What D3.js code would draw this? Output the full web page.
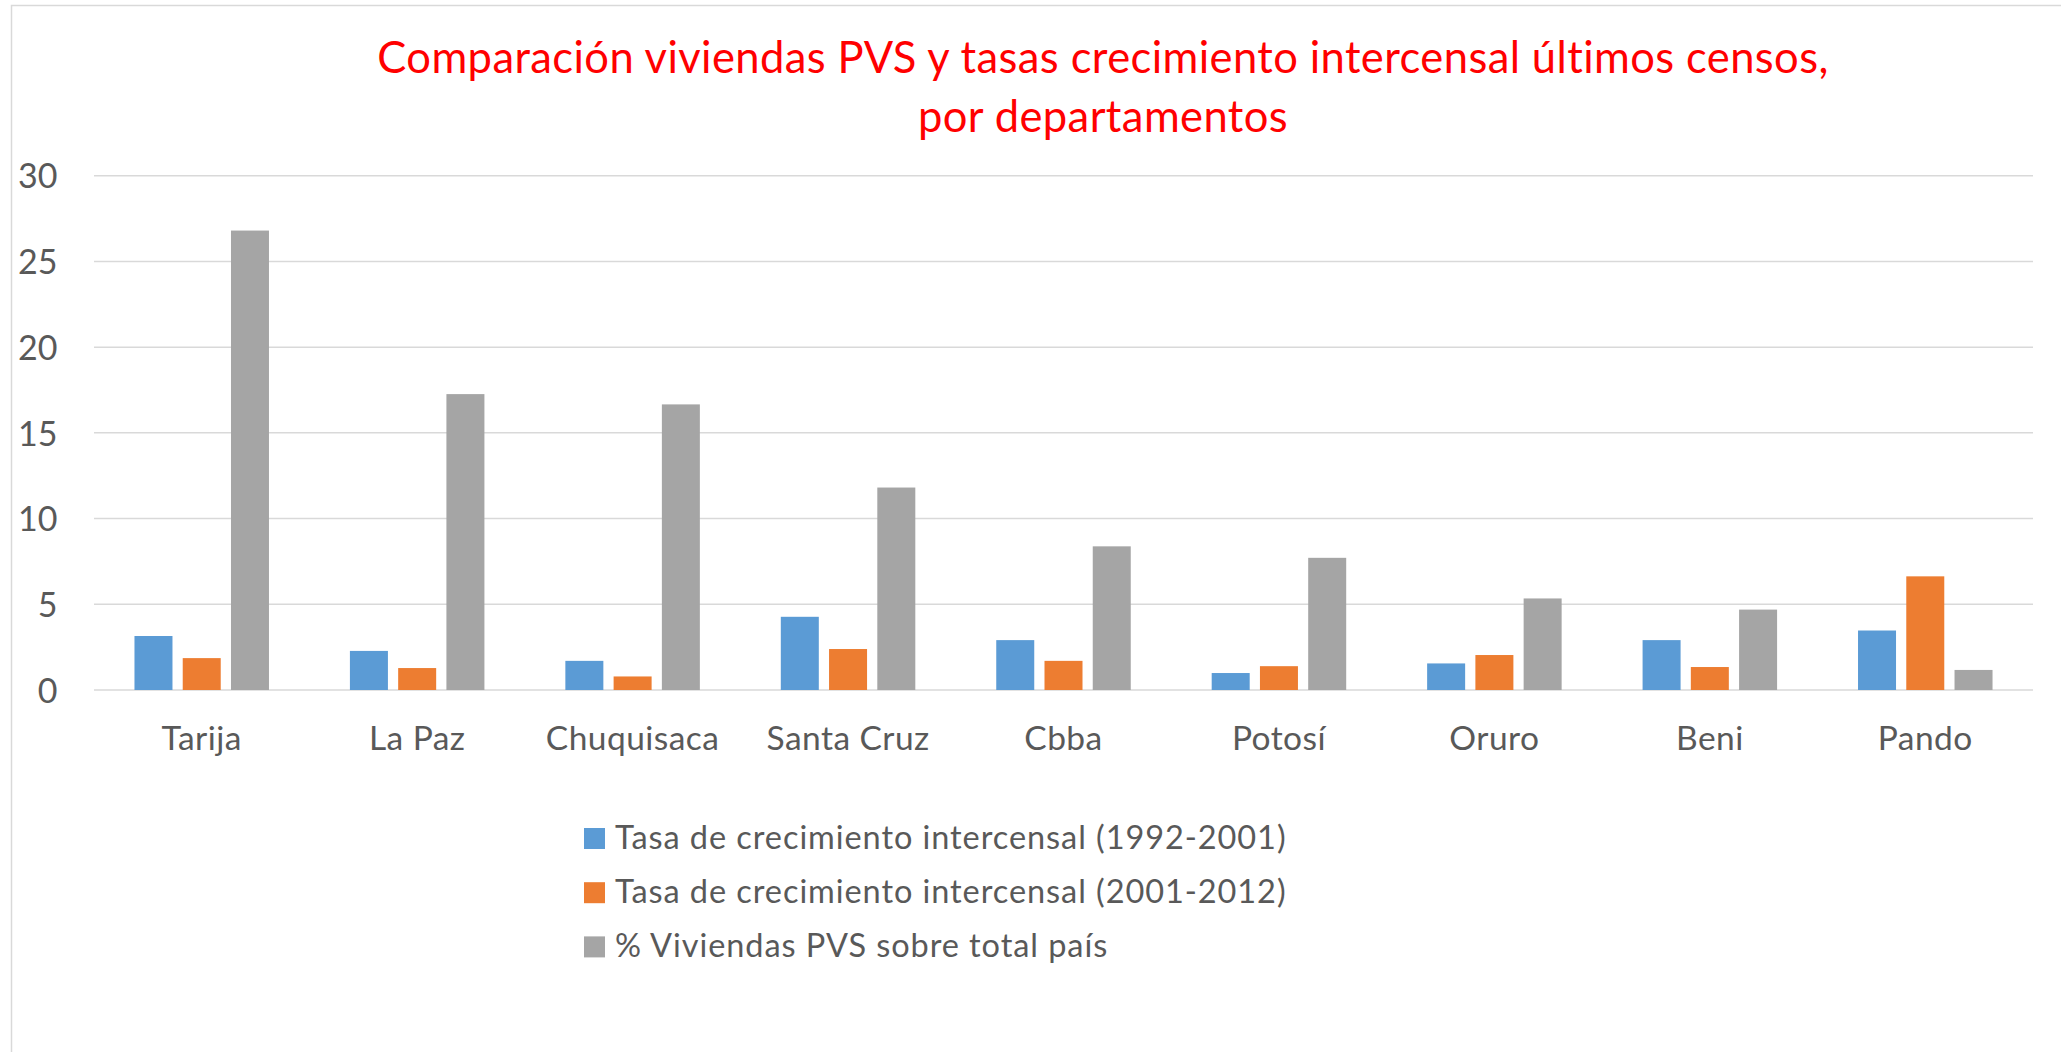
<!doctype html>
<html>
  <head>
    <meta charset="utf-8">
    <script src="https://d3js.org/d3.v7.min.js"></script>
    <style>
      body { margin: 0; background: #fff; }
      text { font-family: Lato, "Open Sans", sans-serif; }
    </style>
  </head>
  <body>
    <script>
    // data
    var departamentos = ["Tarija", "La Paz", "Chuquisaca", "Santa Cruz", "Cbba", "Potosí", "Oruro", "Beni", "Pando"];
    var series = [
      "Tasa de crecimiento intercensal (1992-2001)",
      "Tasa de crecimiento intercensal (2001-2012)",
      "% Viviendas PVS sobre total país"
    ];
    var tasa1992 = [3.15, 2.28, 1.70, 4.27, 2.91, 0.99, 1.55, 2.91, 3.47];
    var tasa2001 = [1.86, 1.28, 0.79, 2.39, 1.70, 1.39, 2.04, 1.34, 6.63];
    var viviendasPVS = [26.8, 17.26, 16.66, 11.81, 8.38, 7.71, 5.34, 4.69, 1.17];
    var yTicks = [0, 5, 10, 15, 20, 25, 30];
    var colors = ["#5b9bd5", "#ed7d31", "#a5a5a5"];
    var titleLines = ["Comparación viviendas PVS y tasas crecimiento intercensal últimos censos,", "por departamentos"];

    var width = 2061;
    var height = 1052;

    var values = [tasa1992, tasa2001, viviendasPVS];
    var rows = departamentos.map(function(d, i) {
      return {dep: d, vals: values.map(function(v, k) { return {k: k, v: v[i]}; })};
    });

    var svg = d3.select("body")
              .append("svg")
              .attr("width", width)
              .attr("height", height);

    svg.append("rect")
      .attr("width", width).attr("height", height)
      .attr("fill", "#fff");

    // chart frame (only top and left edges are visible)
    svg.append("rect")
      .attr("x", 11.5).attr("y", 5.5)
      .attr("width", width + 20).attr("height", height + 20)
      .attr("fill", "none")
      .attr("stroke", "#d9d9d9")
      .attr("stroke-width", 1.5);

    var x0 = d3.scaleBand().domain(departamentos).range([94, 2033]);
    var bw = x0.bandwidth();
    var barW = bw * 38 / 215.44;
    var groupW = barW * 3 + 2 * 10.25 * bw / 215.44;
    var x1 = d3.scaleBand().domain([0, 1, 2])
              .range([(bw - groupW) / 2, (bw + groupW) / 2])
              .paddingInner(10.25 / 48.25);

    var y = d3.scaleLinear().domain([0, 30]).range([690, 175.7]);

    // gridlines
    svg.append("g")
      .selectAll("line")
      .data(yTicks)
      .join("line")
      .attr("x1", 94).attr("x2", 2033)
      .attr("y1", function(d) { return y(d); })
      .attr("y2", function(d) { return y(d); })
      .attr("stroke", "#d9d9d9")
      .attr("stroke-width", 1.5);

    // y axis labels
    var yAxis = d3.axisLeft(y).tickValues(yTicks).tickSize(0).tickPadding(0);
    var gy = svg.append("g").attr("transform", "translate(57.5,0)").call(yAxis);
    gy.select(".domain").remove();
    gy.selectAll("text")
      .attr("fill", "#595959")
      .attr("font-size", "34px")
      .attr("font-family", "Lato, sans-serif")
      .attr("dy", "0.36em");

    // bars
    var groups = svg.append("g")
      .selectAll("g")
      .data(rows)
      .join("g")
      .attr("transform", function(d) { return "translate(" + x0(d.dep) + ",0)"; });

    groups.selectAll("rect")
      .data(function(d) { return d.vals; })
      .join("rect")
      .attr("x", function(d) { return x1(d.k); })
      .attr("width", x1.bandwidth())
      .attr("y", function(d) { return y(d.v); })
      .attr("height", function(d) { return y(0) - y(d.v); })
      .attr("fill", function(d) { return colors[d.k]; });

    // category labels
    var xAxis = d3.axisBottom(x0).tickSize(0).tickPadding(0);
    var gx = svg.append("g").attr("transform", "translate(0,750)").call(xAxis);
    gx.select(".domain").remove();
    gx.selectAll("text")
      .attr("fill", "#595959")
      .attr("font-size", "33.5px")
      .attr("letter-spacing", "0.45px")
      .attr("font-family", "Lato, sans-serif")
      .attr("y", 0)
      .attr("dy", 0);

    // title
    svg.append("g")
      .selectAll("text")
      .data(titleLines)
      .join("text")
      .attr("x", 1103)
      .attr("y", function(d, i) { return 73.3 + i * 58.4; })
      .attr("text-anchor", "middle")
      .attr("fill", "#ff0000")
      .attr("font-size", "43.5px")
      .attr("letter-spacing", "0.4px")
      .text(function(d) { return d; });

    // legend
    var legend = svg.append("g")
      .selectAll("g")
      .data(series)
      .join("g")
      .attr("transform", function(d, i) { return "translate(584," + (828 + i * 54.2) + ")"; });

    legend.append("rect")
      .attr("width", 21).attr("height", 21)
      .attr("fill", function(d, i) { return colors[i]; });

    legend.append("text")
      .attr("x", 31)
      .attr("y", 21)
      .attr("fill", "#595959")
      .attr("font-size", "32.5px")
      .attr("letter-spacing", "0.93px")
      .text(function(d) { return d; });
    </script>
  </body>
</html>
